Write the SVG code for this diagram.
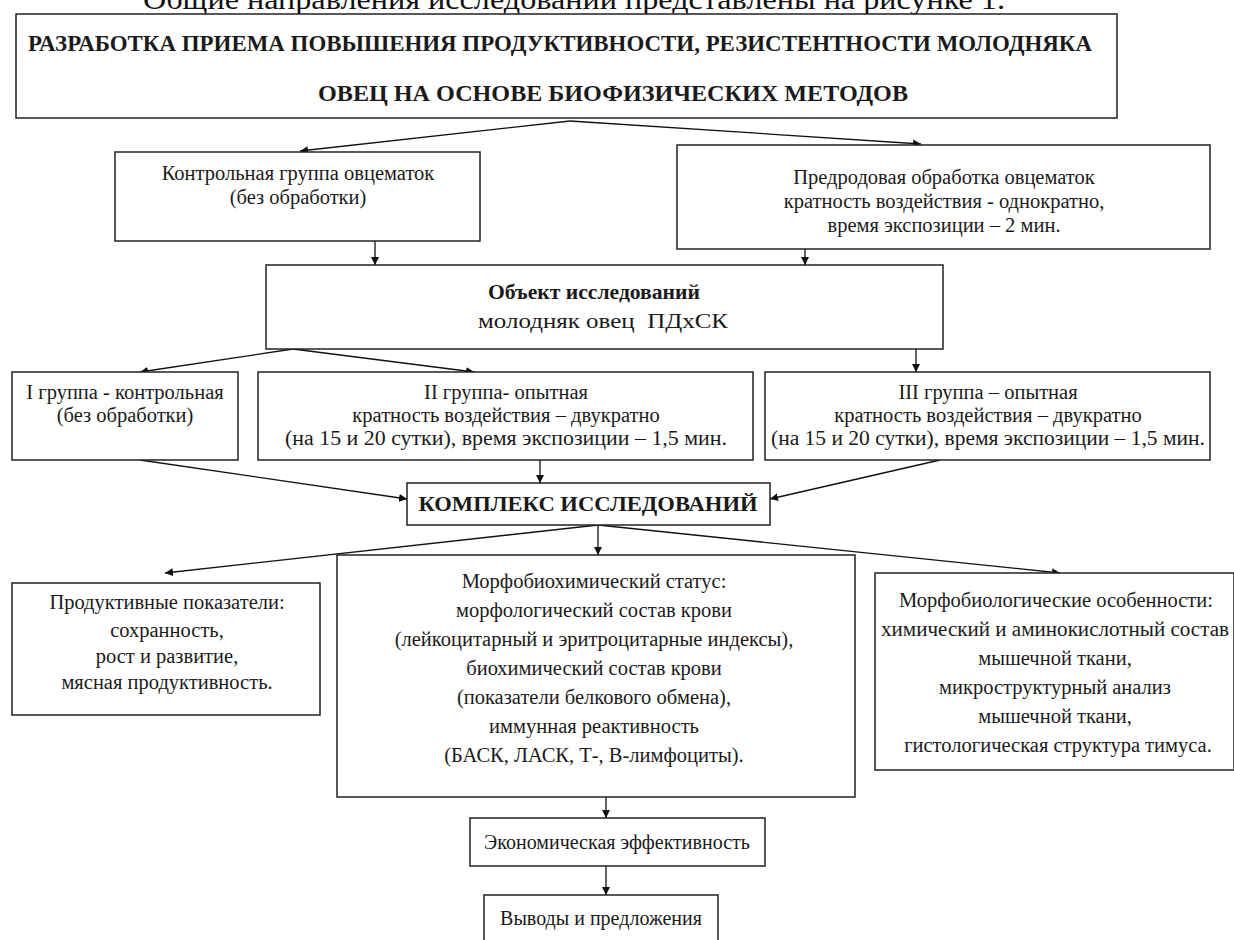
<svg xmlns="http://www.w3.org/2000/svg" width="1234" height="940" viewBox="0 0 1234 940">
<defs>
<marker id="ah" viewBox="0 0 10 10" refX="10" refY="5" markerWidth="8" markerHeight="8" markerUnits="userSpaceOnUse" orient="auto">
<path d="M0,0 L10,5 L0,10 z" fill="#111"/>
</marker>
<style>
.box{fill:#fff;stroke:#222;stroke-width:1.5}
.t{font-family:"Liberation Serif","Times New Roman",serif;font-size:20.5px;fill:#1a1a1a;text-anchor:middle}
.b{font-weight:bold}
.c{fill:none;stroke:#111;stroke-width:1.3;marker-end:url(#ah)}
</style>
</defs>
<rect width="1234" height="940" fill="#fff"/>
<text x="143" y="9" style="font-family:'Liberation Serif',serif;font-size:30px;fill:#111" textLength="862" lengthAdjust="spacingAndGlyphs">Общие направления исследований представлены на рисунке 1.</text>

<g id="connectors">
<line class="c" x1="570" y1="121" x2="300" y2="151"/>
<line class="c" x1="570" y1="121" x2="921" y2="144"/>
<line class="c" x1="375" y1="241" x2="375" y2="265"/>
<line class="c" x1="805" y1="249" x2="805" y2="265"/>
<line class="c" x1="293" y1="349" x2="140" y2="372"/>
<line class="c" x1="293" y1="349" x2="474" y2="372"/>
<line class="c" x1="916" y1="349" x2="916" y2="372"/>
<line class="c" x1="140" y1="460" x2="407" y2="499"/>
<line class="c" x1="540" y1="460" x2="540" y2="483"/>
<line class="c" x1="940" y1="460" x2="770" y2="499"/>
<line class="c" x1="598" y1="525" x2="165" y2="573"/>
<line class="c" x1="598" y1="525" x2="598" y2="555"/>
<line class="c" x1="598" y1="525" x2="1060" y2="573"/>
<line class="c" x1="606" y1="797" x2="606" y2="818"/>
<line class="c" x1="606" y1="866" x2="606" y2="895"/>
</g>

<g id="title">
<rect class="box" x="16" y="14" width="1101" height="104"/>
<text class="t b" x="560" y="51" style="font-size:23px" textLength="1064" lengthAdjust="spacingAndGlyphs">РАЗРАБОТКА ПРИЕМА ПОВЫШЕНИЯ ПРОДУКТИВНОСТИ, РЕЗИСТЕНТНОСТИ МОЛОДНЯКА</text>
<text class="t b" x="613" y="101" style="font-size:23px" textLength="590" lengthAdjust="spacingAndGlyphs">ОВЕЦ НА ОСНОВЕ БИОФИЗИЧЕСКИХ МЕТОДОВ</text>
</g>

<g id="control-ewes">
<rect class="box" x="115" y="152" width="365" height="89"/>
<text class="t" x="298" y="180">Контрольная группа овцематок</text>
<text class="t" x="298" y="204">(без обработки)</text>
</g>

<g id="prenatal">
<rect class="box" x="677" y="145" width="533" height="104"/>
<text class="t" x="944" y="184">Предродовая обработка овцематок</text>
<text class="t" x="944" y="208">кратность воздействия - однократно,</text>
<text class="t" x="944" y="232">время экспозиции – 2 мин.</text>
</g>

<g id="object">
<rect class="box" x="266" y="265" width="677" height="84"/>
<text class="t b" x="594" y="299" style="font-size:21px" textLength="212" lengthAdjust="spacingAndGlyphs">Объект исследований</text>
<text class="t" x="603" y="328" xml:space="preserve" style="font-size:20.5px" textLength="250" lengthAdjust="spacingAndGlyphs">молодняк овец  ПДхСК</text>
</g>

<g id="group1">
<rect class="box" x="12" y="372" width="226" height="88"/>
<text class="t" x="125" y="399">I группа - контрольная</text>
<text class="t" x="125" y="422">(без обработки)</text>
</g>

<g id="group2">
<rect class="box" x="258" y="372" width="495" height="88"/>
<text class="t" x="506" y="399">II группа- опытная</text>
<text class="t" x="506" y="422">кратность воздействия – двукратно</text>
<text class="t" x="506" y="445" textLength="442" lengthAdjust="spacingAndGlyphs">(на 15 и 20 сутки), время экспозиции – 1,5 мин.</text>
</g>

<g id="group3">
<rect class="box" x="765" y="372" width="445" height="88"/>
<text class="t" x="988" y="399">III группа – опытная</text>
<text class="t" x="988" y="422">кратность воздействия – двукратно</text>
<text class="t" x="988" y="445" textLength="434" lengthAdjust="spacingAndGlyphs">(на 15 и 20 сутки), время экспозиции – 1,5 мин.</text>
</g>

<g id="complex">
<rect class="box" x="407" y="483" width="363" height="42"/>
<text class="t b" x="588" y="511" style="font-size:21px" textLength="339" lengthAdjust="spacingAndGlyphs">КОМПЛЕКС ИССЛЕДОВАНИЙ</text>
</g>

<g id="productive">
<rect class="box" x="12" y="583" width="308" height="132"/>
<text class="t" x="167" y="609">Продуктивные показатели:</text>
<text class="t" x="167" y="637">сохранность,</text>
<text class="t" x="167" y="663">рост и развитие,</text>
<text class="t" x="167" y="689">мясная продуктивность.</text>
</g>

<g id="morphobiochem">
<rect class="box" x="337" y="555" width="518" height="242"/>
<text class="t" x="594" y="588">Морфобиохимический статус:</text>
<text class="t" x="594" y="617">морфологический состав крови</text>
<text class="t" x="594" y="646">(лейкоцитарный и эритроцитарные индексы),</text>
<text class="t" x="594" y="675">биохимический состав крови</text>
<text class="t" x="594" y="704">(показатели белкового обмена),</text>
<text class="t" x="594" y="733">иммунная реактивность</text>
<text class="t" x="594" y="762">(БАСК, ЛАСК, Т-, В-лимфоциты).</text>
</g>

<g id="morphobio">
<rect class="box" x="875" y="573" width="359" height="197"/>
<text class="t" x="1056" y="607">Морфобиологические особенности:</text>
<text class="t" x="1055" y="636" textLength="348" lengthAdjust="spacingAndGlyphs">химический и аминокислотный состав</text>
<text class="t" x="1055" y="665">мышечной ткани,</text>
<text class="t" x="1055" y="694">микроструктурный анализ</text>
<text class="t" x="1055" y="723">мышечной ткани,</text>
<text class="t" x="1058" y="752">гистологическая структура тимуса.</text>
</g>

<g id="economic">
<rect class="box" x="470" y="818" width="295" height="48"/>
<text class="t" x="617" y="849" style="font-size:20px">Экономическая эффективность</text>
</g>

<g id="conclusions">
<rect class="box" x="484" y="895" width="234" height="60"/>
<text class="t" x="601" y="925" style="font-size:20px">Выводы и предложения</text>
</g>
</svg>
